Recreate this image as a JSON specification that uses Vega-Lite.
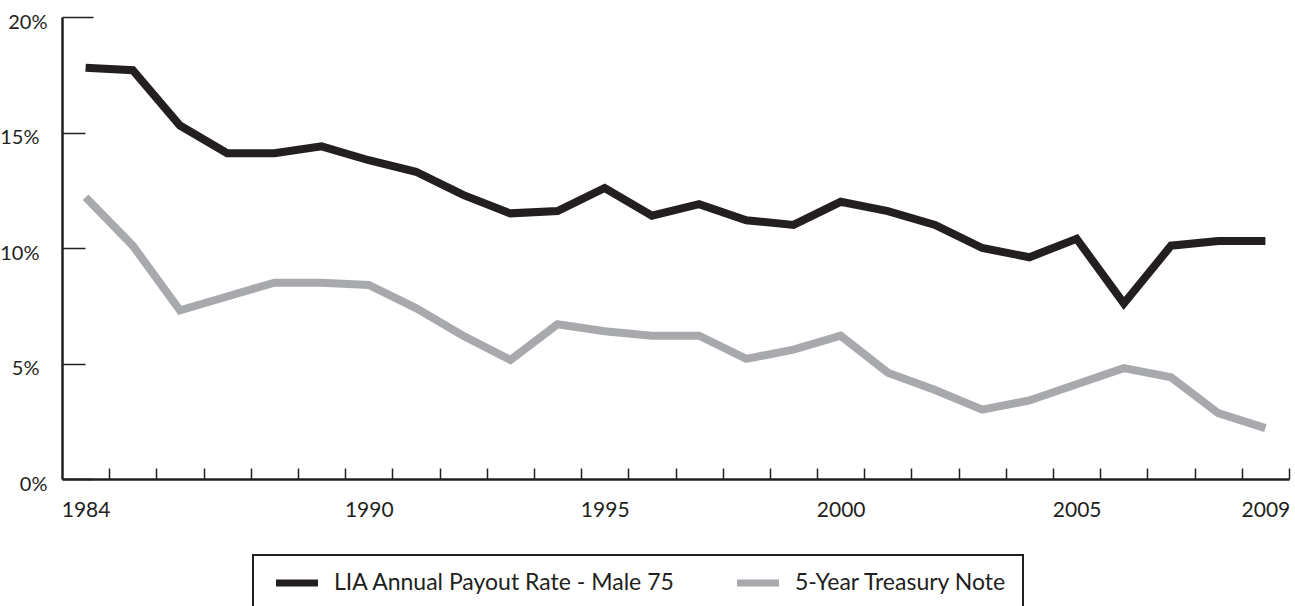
{
  "$schema": "https://vega.github.io/schema/vega-lite/v6.json",
  "width": 1227,
  "height": 462,
  "autosize": {"type": "none"},
  "padding": {"left": 62, "top": 17, "right": 6, "bottom": 127},
  "background": "white",
  "config": {
    "view": {"stroke": null},
    "font": "Lato",
    "axis": {"labelFont": "Lato", "labelFontSize": 21, "labelColor": "#231f20", "domainColor": "#231f20", "tickColor": "#231f20", "grid": false, "title": null},
    "legend": {"strokeWidth": 2}
  },
  "data": {
    "values": [
      {"year": 1984, "series": "LIA Annual Payout Rate - Male 75", "rate": 0.178},
      {"year": 1985, "series": "LIA Annual Payout Rate - Male 75", "rate": 0.177},
      {"year": 1986, "series": "LIA Annual Payout Rate - Male 75", "rate": 0.153},
      {"year": 1987, "series": "LIA Annual Payout Rate - Male 75", "rate": 0.141},
      {"year": 1988, "series": "LIA Annual Payout Rate - Male 75", "rate": 0.141},
      {"year": 1989, "series": "LIA Annual Payout Rate - Male 75", "rate": 0.144},
      {"year": 1990, "series": "LIA Annual Payout Rate - Male 75", "rate": 0.138},
      {"year": 1991, "series": "LIA Annual Payout Rate - Male 75", "rate": 0.133},
      {"year": 1992, "series": "LIA Annual Payout Rate - Male 75", "rate": 0.123},
      {"year": 1993, "series": "LIA Annual Payout Rate - Male 75", "rate": 0.115},
      {"year": 1994, "series": "LIA Annual Payout Rate - Male 75", "rate": 0.116},
      {"year": 1995, "series": "LIA Annual Payout Rate - Male 75", "rate": 0.126},
      {"year": 1996, "series": "LIA Annual Payout Rate - Male 75", "rate": 0.114},
      {"year": 1997, "series": "LIA Annual Payout Rate - Male 75", "rate": 0.119},
      {"year": 1998, "series": "LIA Annual Payout Rate - Male 75", "rate": 0.112},
      {"year": 1999, "series": "LIA Annual Payout Rate - Male 75", "rate": 0.110},
      {"year": 2000, "series": "LIA Annual Payout Rate - Male 75", "rate": 0.120},
      {"year": 2001, "series": "LIA Annual Payout Rate - Male 75", "rate": 0.116},
      {"year": 2002, "series": "LIA Annual Payout Rate - Male 75", "rate": 0.110},
      {"year": 2003, "series": "LIA Annual Payout Rate - Male 75", "rate": 0.100},
      {"year": 2004, "series": "LIA Annual Payout Rate - Male 75", "rate": 0.096},
      {"year": 2005, "series": "LIA Annual Payout Rate - Male 75", "rate": 0.104},
      {"year": 2006, "series": "LIA Annual Payout Rate - Male 75", "rate": 0.076},
      {"year": 2007, "series": "LIA Annual Payout Rate - Male 75", "rate": 0.101},
      {"year": 2008, "series": "LIA Annual Payout Rate - Male 75", "rate": 0.103},
      {"year": 2009, "series": "LIA Annual Payout Rate - Male 75", "rate": 0.103},
      {"year": 1984, "series": "5-Year Treasury Note", "rate": 0.122},
      {"year": 1985, "series": "5-Year Treasury Note", "rate": 0.101},
      {"year": 1986, "series": "5-Year Treasury Note", "rate": 0.073},
      {"year": 1987, "series": "5-Year Treasury Note", "rate": 0.079},
      {"year": 1988, "series": "5-Year Treasury Note", "rate": 0.085},
      {"year": 1989, "series": "5-Year Treasury Note", "rate": 0.085},
      {"year": 1990, "series": "5-Year Treasury Note", "rate": 0.084},
      {"year": 1991, "series": "5-Year Treasury Note", "rate": 0.074},
      {"year": 1992, "series": "5-Year Treasury Note", "rate": 0.062},
      {"year": 1993, "series": "5-Year Treasury Note", "rate": 0.0515},
      {"year": 1994, "series": "5-Year Treasury Note", "rate": 0.067},
      {"year": 1995, "series": "5-Year Treasury Note", "rate": 0.064},
      {"year": 1996, "series": "5-Year Treasury Note", "rate": 0.062},
      {"year": 1997, "series": "5-Year Treasury Note", "rate": 0.062},
      {"year": 1998, "series": "5-Year Treasury Note", "rate": 0.052},
      {"year": 1999, "series": "5-Year Treasury Note", "rate": 0.056},
      {"year": 2000, "series": "5-Year Treasury Note", "rate": 0.062},
      {"year": 2001, "series": "5-Year Treasury Note", "rate": 0.046},
      {"year": 2002, "series": "5-Year Treasury Note", "rate": 0.0385},
      {"year": 2003, "series": "5-Year Treasury Note", "rate": 0.030},
      {"year": 2004, "series": "5-Year Treasury Note", "rate": 0.034},
      {"year": 2005, "series": "5-Year Treasury Note", "rate": 0.041},
      {"year": 2006, "series": "5-Year Treasury Note", "rate": 0.048},
      {"year": 2007, "series": "5-Year Treasury Note", "rate": 0.044},
      {"year": 2008, "series": "5-Year Treasury Note", "rate": 0.0285},
      {"year": 2009, "series": "5-Year Treasury Note", "rate": 0.022}
    ]
  },
  "mark": {"type": "line", "strokeWidth": 8, "strokeCap": "butt", "strokeJoin": "miter"},
  "encoding": {
    "x": {
      "field": "year",
      "type": "quantitative",
      "scale": {"domain": [1983.5, 2009.5], "nice": false, "zero": false},
      "axis": {
        "values": [1984.5, 1985.5, 1986.5, 1987.5, 1988.5, 1989.5, 1990.5, 1991.5, 1992.5, 1993.5, 1994.5, 1995.5, 1996.5, 1997.5, 1998.5, 1999.5, 2000.5, 2001.5, 2002.5, 2003.5, 2004.5, 2005.5, 2006.5, 2007.5, 2008.5, 2009.5],
        "labelExpr": "indexof([1984.5, 1990.5, 1995.5, 2000.5, 2005.5, 2009.5], datum.value) >= 0 ? format(datum.value - 0.5, 'd') : ''",
        "labelOverlap": false,
        "labelFlush": false,
        "labelBound": false,
        "labelOffset": -23.6,
        "tickSize": -11,
        "tickWidth": 1.5,
        "labelPadding": 31,
        "labelBaseline": "top",
        "domainWidth": 2.5
      }
    },
    "y": {
      "field": "rate",
      "type": "quantitative",
      "scale": {"domain": [0, 0.2], "nice": false},
      "axis": {
        "values": [0, 0.05, 0.1, 0.15, 0.2],
        "format": ".0%",
        "labelFontSize": 20,
        "tickSize": {"condition": {"test": "datum.value == 0 || datum.value == 0.2", "value": -31}, "value": -23},
        "tickWidth": 1.5,
        "labelPadding": 46,
        "labelOffset": 5,
        "domainWidth": 2.5
      }
    },
    "color": {
      "field": "series",
      "type": "nominal",
      "scale": {"domain": ["LIA Annual Payout Rate - Male 75", "5-Year Treasury Note"], "range": ["#231f20", "#a7a9ac"]},
      "legend": {
        "title": null,
        "orient": "none",
        "legendX": 191,
        "legendY": 538,
        "direction": "horizontal",
        "symbolType": "M-2.5,0H2.5",
        "symbolSize": 282,
        "symbolStrokeWidth": 7,
        "symbolOffset": 16,
        "labelFont": "Lato",
        "labelFontSize": 23,
        "labelColor": "#231f20",
        "labelLimit": 600,
        "labelOffset": 25,
        "columnPadding": 47,
        "padding": 16,
        "strokeColor": "#231f20",
        "fillColor": "white"
      }
    }
  }
}
